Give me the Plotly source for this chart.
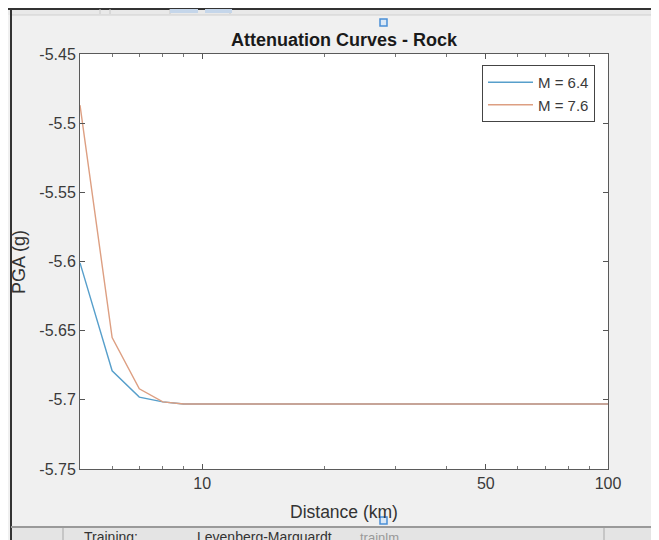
import plotly.graph_objects as go

# ---- data ----
distance_km = [5, 6, 7, 8, 9, 10, 20, 30, 40, 50, 60, 70, 80, 90, 100]
pga_m64 = [-5.601, -5.679, -5.698, -5.7015, -5.703, -5.703, -5.703, -5.703,
           -5.703, -5.703, -5.703, -5.703, -5.703, -5.703, -5.703]
pga_m76 = [-5.487, -5.655, -5.692, -5.7015, -5.703, -5.703, -5.703, -5.703,
           -5.703, -5.703, -5.703, -5.703, -5.703, -5.703, -5.703]
series_names = ["M = 6.4", "M = 7.6"]
x_tick_vals = [10, 50, 100]
x_tick_text = ["10", "50", "100"]
x_minor_vals = [6, 7, 8, 9, 20, 30, 40, 60, 70, 80, 90]
y_tick_vals = [-5.75, -5.7, -5.65, -5.6, -5.55, -5.5, -5.45]
y_tick_text = ["-5.75", "-5.7", "-5.65", "-5.6", "-5.55", "-5.5", "-5.45"]

# the page body has an 8px margin; the figure is sized to fit the window
OFF = 8
W, H = 659 - OFF, 540 - OFF
# plot box in window pixels
L, R, T, B = 80 - OFF, 608 - OFF, 54 - OFF, 469 - OFF
FONT = "Liberation Sans, Arial, Helvetica, sans-serif"
AX = "#3a3a3a"


def px(x):  # window x -> paper
    return (x - OFF - L) / (R - L)


def py(y):  # window y -> paper
    return 1 - (y - OFF - T) / (B - T)


fig = go.Figure()
fig.add_trace(go.Scatter(x=distance_km, y=pga_m64, mode="lines", name=series_names[0],
                         line=dict(color="#579fcb", width=1.4)))
fig.add_trace(go.Scatter(x=distance_km, y=pga_m76, mode="lines", name=series_names[1],
                         line=dict(color="#dd9f82", width=1.4)))
# invisible carrier so the top (mirrored) axis with minor ticks is drawn
fig.add_trace(go.Scatter(x=distance_km, y=pga_m64, mode="lines", xaxis="x2", showlegend=False,
                         hoverinfo="skip", line=dict(color="rgba(0,0,0,0)", width=0)))

shapes = []
# window decorations (screenshot frame)
shapes.append(dict(type="rect", xref="paper", yref="paper", x0=px(8), x1=px(659), y0=py(8), y1=py(15),
                   fillcolor="#e9e9e9", line=dict(width=0), layer="below"))
shapes.append(dict(type="line", xref="paper", yref="paper", x0=px(8), x1=px(659), y0=py(9), y1=py(9),
                   line=dict(color="#333333", width=2)))
shapes.append(dict(type="line", xref="paper", yref="paper", x0=px(11), x1=px(659), y0=py(15), y1=py(15),
                   line=dict(color="#cfcfcf", width=1)))
shapes.append(dict(type="line", xref="paper", yref="paper", x0=px(11), x1=px(11), y0=py(8), y1=py(540),
                   line=dict(color="#333333", width=2)))
for xx in [100, 110, 170, 230]:
    shapes.append(dict(type="line", xref="paper", yref="paper", x0=px(xx), x1=px(xx), y0=py(9), y1=py(14),
                       line=dict(color="#c8c8c8", width=1)))
shapes.append(dict(type="rect", xref="paper", yref="paper", x0=px(170), x1=px(198), y0=py(9), y1=py(13),
                   fillcolor="#c5d6ea", line=dict(width=0)))
shapes.append(dict(type="rect", xref="paper", yref="paper", x0=px(205), x1=px(232), y0=py(9), y1=py(13),
                   fillcolor="#c5d6ea", line=dict(width=0)))
# bottom panel
shapes.append(dict(type="rect", xref="paper", yref="paper", x0=px(11), x1=px(659), y0=py(527), y1=py(540),
                   fillcolor="#e4e4e4", line=dict(width=0), layer="below"))
shapes.append(dict(type="line", xref="paper", yref="paper", x0=px(11), x1=px(659), y0=py(527), y1=py(527),
                   line=dict(color="#9a9a9a", width=2)))
shapes.append(dict(type="line", xref="paper", yref="paper", x0=px(63), x1=px(63), y0=py(528), y1=py(540),
                   line=dict(color="#a8a8a8", width=1)))
shapes.append(dict(type="line", xref="paper", yref="paper", x0=px(604), x1=px(604), y0=py(528), y1=py(540),
                   line=dict(color="#a8a8a8", width=1)))
# selection handles
for cy in [22, 520]:
    shapes.append(dict(type="rect", xref="paper", yref="paper", x0=px(380), x1=px(387), y0=py(cy - 3), y1=py(cy + 4),
                       fillcolor="#dbe8f6", line=dict(color="#4a8fd6", width=1.5)))

annotations = [
    dict(text="Distance (km)", x=px(344), y=py(512), xref="paper", yref="paper", showarrow=False,
         font=dict(family=FONT, size=17.5, color="#333333"), xanchor="center", yanchor="middle"),
    dict(text="PGA (g)", x=px(19), y=py(262), xref="paper", yref="paper", showarrow=False, textangle=-90,
         font=dict(family=FONT, size=18, color="#333333"), xanchor="center", yanchor="middle"),
    dict(text="Training:", x=px(82), y=py(537), xref="paper", yref="paper", showarrow=False,
         font=dict(family=FONT, size=14, color="#333333"), xanchor="left", yanchor="middle"),
    dict(text="Levenberg-Marquardt", x=px(195), y=py(537), xref="paper", yref="paper", showarrow=False,
         font=dict(family=FONT, size=14, color="#333333"), xanchor="left", yanchor="middle"),
    dict(text="trainlm", x=px(358), y=py(537), xref="paper", yref="paper", showarrow=False,
         font=dict(family=FONT, size=13, color="#999999"), xanchor="left", yanchor="middle"),
]

xaxis_common = dict(type="log", range=[0.69897, 2.0], tickmode="array", tickvals=x_tick_vals,
                    ticks="inside", ticklen=5, tickcolor="#555555", showgrid=False, zeroline=False,
                    minor=dict(tickvals=x_minor_vals, ticks="inside", ticklen=3, tickcolor="#777777",
                               showgrid=False))

fig.update_layout(
    width=W, height=H,
    margin=dict(l=L, r=W - R, t=T, b=H - B, autoexpand=False),
    paper_bgcolor="#f0f0f0",
    plot_bgcolor="white",
    showlegend=True,
    font=dict(family=FONT, size=16, color=AX),
    title=dict(text="<b>Attenuation Curves - Rock</b>", x=px(344), xref="paper", xanchor="center",
               y=1 - (40 - OFF) / H, yref="container", yanchor="middle",
               font=dict(family=FONT, size=18, color="#1a1a1a")),
    xaxis=dict(**xaxis_common, ticktext=x_tick_text,
               showline=True, linecolor="#5a5a5a", linewidth=1, mirror=True,
               tickfont=dict(family=FONT, size=16, color=AX)),
    xaxis2=dict(**xaxis_common, overlaying="x", side="top", showticklabels=False, showline=False),
    yaxis=dict(range=[-5.75, -5.45], tickmode="array", tickvals=y_tick_vals, ticktext=y_tick_text,
               ticks="inside", ticklen=5, tickcolor="#555555", showgrid=False, zeroline=False,
               showline=True, linecolor="#5a5a5a", linewidth=1, mirror="ticks",
               tickfont=dict(family=FONT, size=16, color=AX)),
    legend=dict(x=px(595), y=py(65), xanchor="right", yanchor="top", bgcolor="white",
                bordercolor="#444444", borderwidth=1, font=dict(family=FONT, size=15, color=AX),
                tracegroupgap=0, itemwidth=45),
    shapes=shapes,
    annotations=annotations,
)

fig.write_html("out.html")
